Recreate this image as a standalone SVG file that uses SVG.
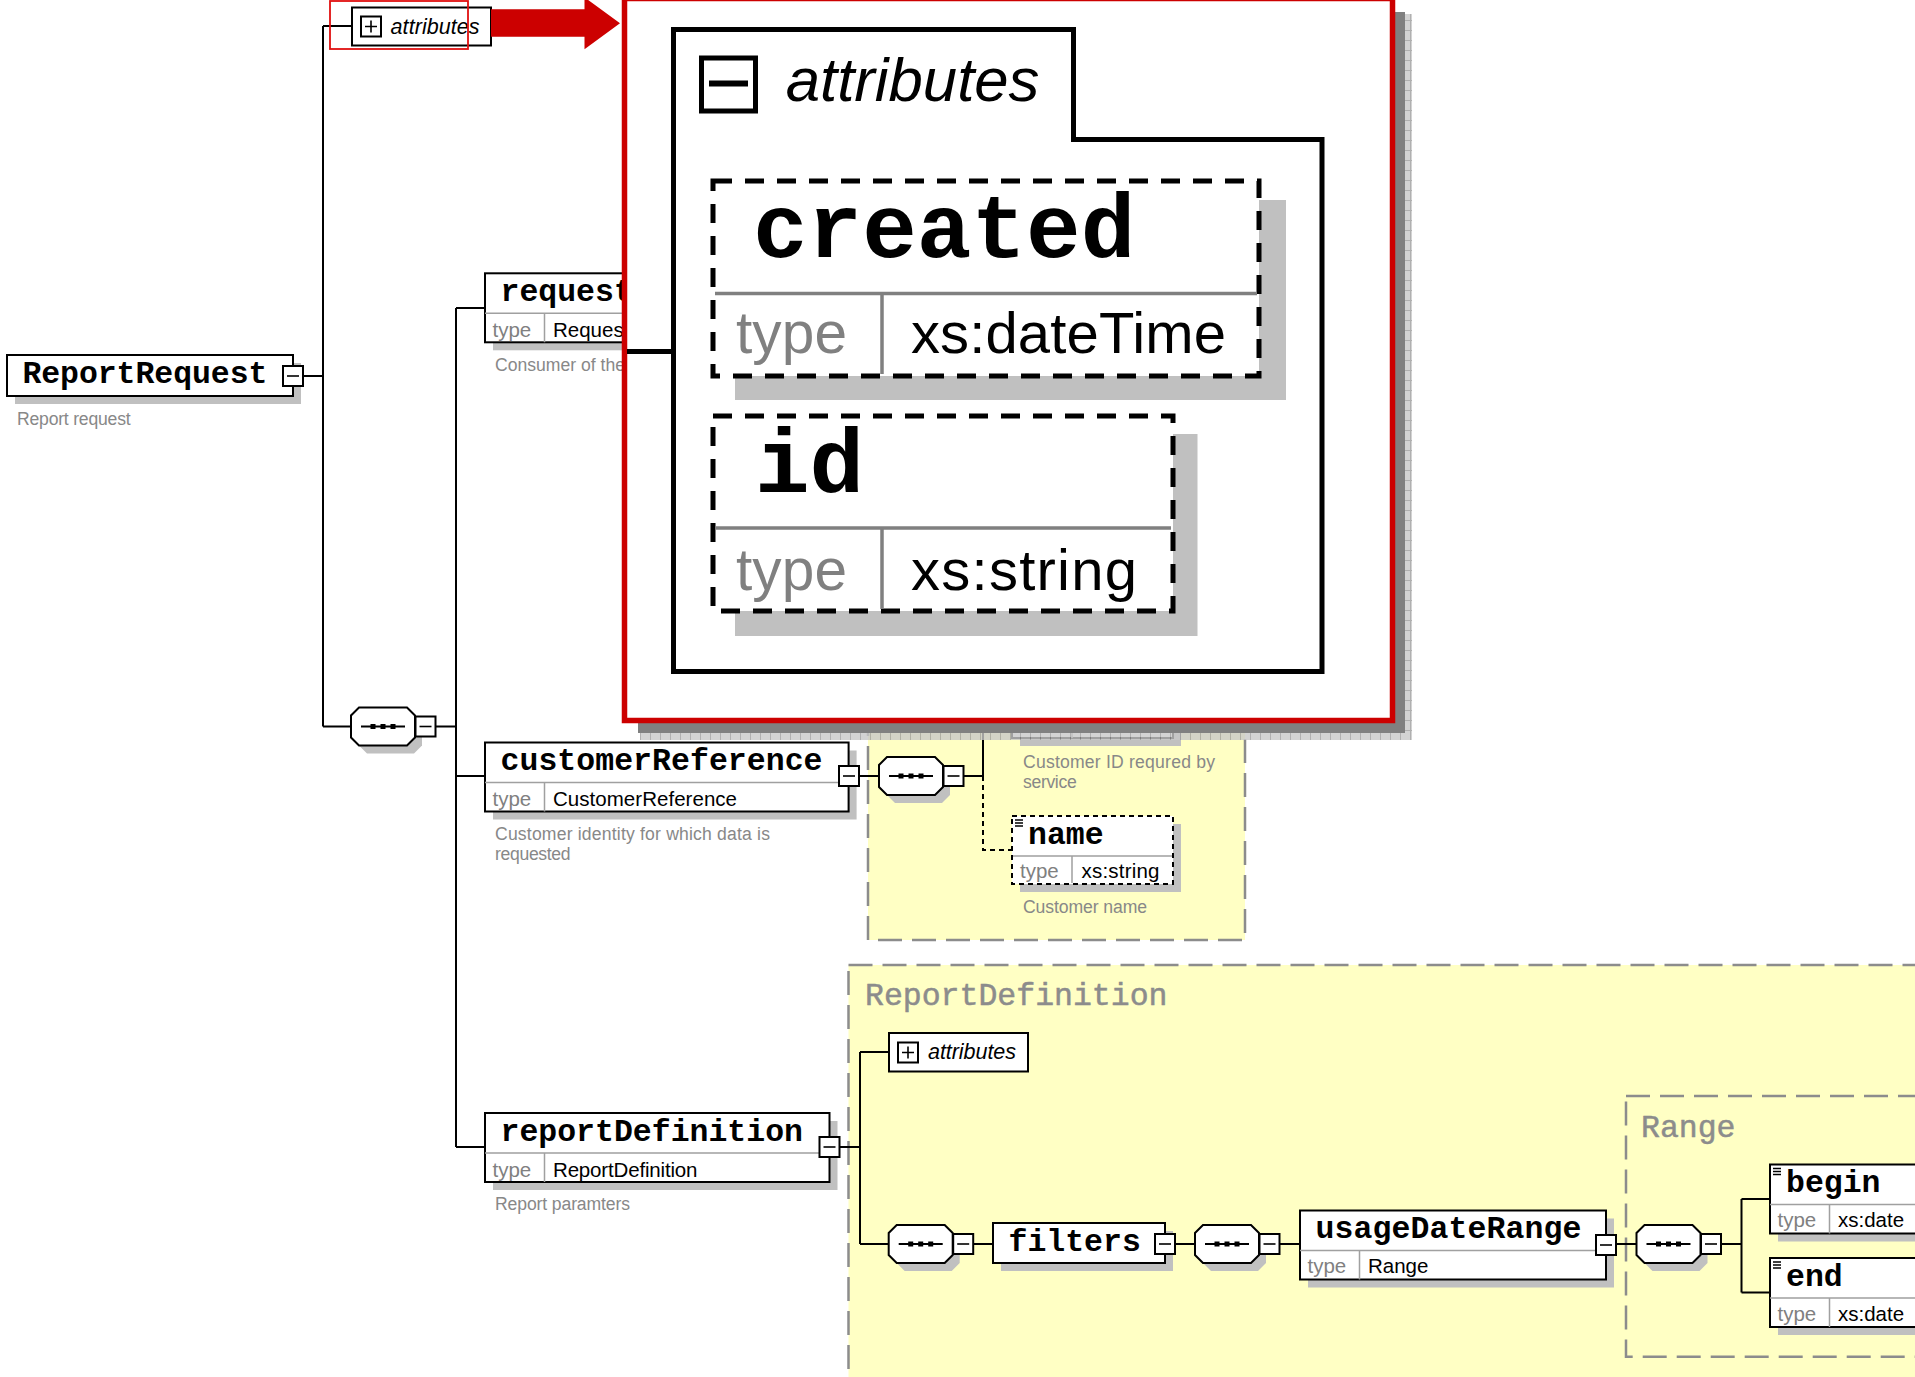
<svg xmlns="http://www.w3.org/2000/svg" xmlns:xlink="http://www.w3.org/1999/xlink" width="1915" height="1377" viewBox="0 0 1915 1377">
<style>
.box{fill:#fff;stroke:#000;stroke-width:2}
.dbox{fill:#fff;stroke:#000;stroke-width:2;stroke-dasharray:5 4}
.shd{fill:#c0c0c0}
.sep{stroke:#a0a0a0;stroke-width:1.5;fill:none}
.ttl{font-family:"Liberation Mono","Courier New",monospace;font-weight:bold;font-size:31.5px;fill:#000}
.typ{font-family:"Liberation Sans",Arial,sans-serif;font-size:20.5px;fill:#808080}
.val{font-family:"Liberation Sans",Arial,sans-serif;font-size:20.5px;fill:#000}
.dsc{font-family:"Liberation Sans",Arial,sans-serif;font-size:17.6px;fill:#888}
.att{font-family:"Liberation Sans",Arial,sans-serif;font-style:italic;font-size:21.5px;fill:#000}
.con{stroke:#000;stroke-width:2;fill:none}
.dcon{stroke:#000;stroke-width:2;fill:none;stroke-dasharray:5 4}
.yel{fill:#ffffc4;stroke:#8c8c8c;stroke-width:2.5;stroke-dasharray:24 10}
.lbl{font-family:"Liberation Mono","Courier New",monospace;font-size:31.5px;fill:#8c8c8c;stroke:#8c8c8c;stroke-width:0.5}
.ico{stroke:#000;stroke-width:1.3}
</style>
<defs>
<g id="minus"><rect x="0" y="0" width="20" height="20" fill="#fff" stroke="#000" stroke-width="2"/><path d="M4,10H16" stroke="#000" stroke-width="1.6"/></g>
<g id="plus"><rect x="0" y="0" width="20" height="20" fill="#fff" stroke="#000" stroke-width="2"/><path d="M4,10H16M10,4V16" stroke="#000" stroke-width="1.6"/></g>
<g id="seq">
<path d="M16,8H63L71,16V38L63,46H16L8,38V16Z" fill="#c0c0c0"/>
<path d="M8,0H56L64,8V30L56,38H8L0,30V8Z" fill="#fff" stroke="#000" stroke-width="2"/>
<path d="M10,19H54" stroke="#000" stroke-width="2"/>
<rect x="19.5" y="16.5" width="5" height="5"/><rect x="29.5" y="16.5" width="5" height="5"/><rect x="39.5" y="16.5" width="5" height="5"/>
<use xlink:href="#minus" x="64.5" y="9"/>
</g>
<path id="eq" d="M3,4H11M3,7H11M3,10H11"/>
<pattern id="hatch" width="10" height="10" patternUnits="userSpaceOnUse"><rect width="10" height="10" fill="#c8c8c8"/><path d="M0,0.5H10M0.5,0V10" stroke="#9c9c9c" stroke-width="1"/></pattern>
</defs>
<rect width="1915" height="1377" fill="#fff"/>

<g id="complex-types">
<rect class="yel" x="868" y="640" width="377" height="300"/>
<rect class="yel" x="848.5" y="965" width="1200" height="600"/>
<text class="lbl" x="865" y="1005">ReportDefinition</text>
<rect class="yel" x="1626" y="1096" width="400" height="260.7"/>
<text class="lbl" x="1641" y="1137">Range</text>
</g>

<g id="connectors">
<path class="con" d="M302,376H323M323,26V726.5M323,26H352M323,726.5H351M435.5,726.5H456M456,308V1147M456,308H485M456,776H485M456,1147H485"/>
<path class="con" d="M859,776H879M963.5,776H983M983,690V776"/>
<path class="dcon" d="M983,776V850H1012"/>
<path class="con" d="M839.5,1147H860M860,1052V1244M860,1052H889M860,1244H889M973,1244H993M1175,1244H1195M1279.5,1244H1300M1616,1244H1636.5M1721,1244H1741.5M1741.5,1199V1292.5M1741.5,1199H1770M1741.5,1292.5H1770"/>
</g>

<g id="node-ReportRequest">
<rect class="shd" x="15" y="363" width="286" height="41"/>
<rect class="box" x="7" y="355" width="286" height="41"/>
<text class="ttl" x="22.4" y="383.3" textLength="245">ReportRequest</text>
<use xlink:href="#minus" x="283" y="366"/>
<text class="dsc" x="17" y="425" textLength="113.6">Report request</text>
</g>

<g id="node-attributes">
<rect class="box" x="352" y="7.5" width="139" height="38"/>
<use xlink:href="#plus" x="361" y="16.5"/>
<text class="att" x="390.6" y="33.5" textLength="89">attributes</text>
</g>

<g id="node-sequence1"><use xlink:href="#seq" x="351" y="707.5"/></g>

<g id="node-request">
<rect class="shd" x="493" y="281.3" width="400" height="69"/>
<rect class="box" x="485" y="273.3" width="400" height="69"/>
<path class="sep" d="M485,313.3H885M544.5,313.3V342.3"/>
<text class="ttl" x="500.5" y="300.8">request</text>
<text class="typ" x="492.5" y="336.5">type</text>
<text class="val" x="553" y="336.5">Request</text>
<text class="dsc" x="495" y="371">Consumer of the</text>
</g>

<g id="node-customerReference">
<rect class="shd" x="493" y="750.5" width="363.6" height="69"/>
<rect class="box" x="485" y="742.5" width="363.6" height="69"/>
<path class="sep" d="M485,782.5H848.6M544.5,782.5V811.5"/>
<text class="ttl" x="500.5" y="770" textLength="322">customerReference</text>
<text class="typ" x="492.5" y="805.5">type</text>
<text class="val" x="553" y="805.5" textLength="184">CustomerReference</text>
<use xlink:href="#minus" x="839" y="766"/>
<text class="dsc" x="495" y="840" textLength="275">Customer identity for which data is</text>
<text class="dsc" x="495" y="860" textLength="75.6">requested</text>
</g>

<g id="node-sequence2"><use xlink:href="#seq" x="879" y="757"/></g>

<g id="node-customerID">
<rect class="shd" x="1020" y="678" width="161" height="68"/>
<rect class="box" x="1012" y="670" width="161" height="68"/>
<path class="sep" d="M1072,710V738"/>
<text class="dsc" x="1023" y="768" textLength="192">Customer ID requred by</text>
<text class="dsc" x="1023" y="788" textLength="53.7">service</text>
</g>

<g id="node-name">
<rect class="shd" x="1020" y="824" width="161" height="68"/>
<rect class="dbox" x="1012" y="816" width="161" height="68"/>
<path class="sep" d="M1013,856H1172M1072,856V883"/>
<use xlink:href="#eq" class="ico" x="1012" y="816"/>
<text class="ttl" x="1028" y="843.5">name</text>
<text class="typ" x="1020" y="878">type</text>
<text class="val" x="1081.5" y="878" textLength="78">xs:string</text>
<text class="dsc" x="1023" y="913" textLength="124">Customer name</text>
</g>

<g id="node-reportDefinition">
<rect class="shd" x="493" y="1121" width="344.5" height="69"/>
<rect class="box" x="485" y="1113" width="344.5" height="69"/>
<path class="sep" d="M485,1153H829.5M544.5,1153V1182"/>
<text class="ttl" x="500.5" y="1140.5">reportDefinition</text>
<text class="typ" x="492.5" y="1176.5">type</text>
<text class="val" x="553" y="1176.5" textLength="144.5">ReportDefinition</text>
<use xlink:href="#minus" x="819.5" y="1137"/>
<text class="dsc" x="495" y="1210" textLength="135">Report paramters</text>
</g>

<g id="node-attributes2">
<rect class="box" x="889" y="1033" width="139" height="38.5"/>
<use xlink:href="#plus" x="898" y="1042.5"/>
<text class="att" x="928" y="1058.5" textLength="88">attributes</text>
</g>

<g id="node-sequence3"><use xlink:href="#seq" x="888.7" y="1225"/></g>

<g id="node-filters">
<rect class="shd" x="1001" y="1231" width="172" height="40"/>
<rect class="box" x="993" y="1223" width="172" height="40"/>
<text class="ttl" x="1008.5" y="1251">filters</text>
<use xlink:href="#minus" x="1155" y="1234"/>
</g>

<g id="node-sequence4"><use xlink:href="#seq" x="1195" y="1225"/></g>

<g id="node-usageDateRange">
<rect class="shd" x="1308" y="1218.5" width="306" height="69"/>
<rect class="box" x="1300" y="1210.5" width="306" height="69"/>
<path class="sep" d="M1300,1250.5H1606M1359.5,1250.5V1279.5"/>
<text class="ttl" x="1315.5" y="1238" textLength="266">usageDateRange</text>
<text class="typ" x="1307.5" y="1273">type</text>
<text class="val" x="1368" y="1273">Range</text>
<use xlink:href="#minus" x="1596" y="1235"/>
</g>

<g id="node-sequence5"><use xlink:href="#seq" x="1636.5" y="1225"/></g>

<g id="node-begin">
<rect class="shd" x="1778" y="1172.5" width="200" height="69"/>
<rect class="box" x="1770" y="1164.5" width="200" height="69"/>
<path class="sep" d="M1770,1204.5H1970M1829.5,1204.5V1233.5"/>
<use xlink:href="#eq" class="ico" x="1770" y="1164.5"/>
<text class="ttl" x="1786" y="1192">begin</text>
<text class="typ" x="1777.5" y="1227">type</text>
<text class="val" x="1838" y="1227">xs:date</text>
</g>

<g id="node-end">
<rect class="shd" x="1778" y="1266" width="200" height="69"/>
<rect class="box" x="1770" y="1258" width="200" height="69"/>
<path class="sep" d="M1770,1298H1970M1829.5,1298V1327"/>
<use xlink:href="#eq" class="ico" x="1770" y="1258"/>
<text class="ttl" x="1786" y="1285.5">end</text>
<text class="typ" x="1777.5" y="1320.5">type</text>
<text class="val" x="1838" y="1320.5">xs:date</text>
</g>

<g id="callout">
<path d="M1395,12H1405V733H638V723H1395Z" fill="#808080"/>
<path d="M1405,14H1412V740H640V733H1405Z" fill="url(#hatch)" opacity="0.8"/>
<rect x="624.5" y="-1.5" width="768" height="722" fill="#fff" stroke="#cc0000" stroke-width="5.5"/>
<path d="M627,351.5H674" stroke="#000" stroke-width="5"/>
<path d="M673.5,29.5H1073.5V139.5H1322V671.5H673.5Z" fill="#fff" stroke="#000" stroke-width="5"/>
<rect x="701.5" y="58" width="54" height="53" fill="#fff" stroke="#000" stroke-width="5"/>
<path d="M709,83.5H748" stroke="#000" stroke-width="6"/>
<text x="785.8" y="101.4" font-family="'Liberation Sans',Arial,sans-serif" font-style="italic" font-size="61.7" textLength="253.6">attributes</text>
<g id="node-created">
<rect x="735" y="200" width="551" height="200" fill="#c0c0c0"/>
<rect x="713" y="181" width="546" height="195" fill="#fff" stroke="#000" stroke-width="5" stroke-dasharray="19 13"/>
<path d="M715,293.5H1257M882,293.5V374" stroke="#808080" stroke-width="3.5"/>
<text x="753" y="257" font-family="'Liberation Mono','Courier New',monospace" font-weight="bold" font-size="91">created</text>
<text x="736" y="352.8" font-family="'Liberation Sans',Arial,sans-serif" font-size="58.6" fill="#808080" textLength="111">type</text>
<text x="911" y="352.8" font-family="'Liberation Sans',Arial,sans-serif" font-size="58" textLength="315">xs:dateTime</text>
</g>
<g id="node-id">
<rect x="735" y="434" width="462.5" height="202" fill="#c0c0c0"/>
<rect x="713" y="416" width="460" height="195" fill="#fff" stroke="#000" stroke-width="5" stroke-dasharray="19 13"/>
<path d="M715,528H1171M882,528V609" stroke="#808080" stroke-width="3.5"/>
<text x="755" y="492" font-family="'Liberation Mono','Courier New',monospace" font-weight="bold" font-size="91">id</text>
<text x="736" y="589.6" font-family="'Liberation Sans',Arial,sans-serif" font-size="58.6" fill="#808080" textLength="111">type</text>
<text x="911" y="589.6" font-family="'Liberation Sans',Arial,sans-serif" font-size="58" textLength="226">xs:string</text>
</g>
</g>

<g id="highlight">
<rect x="330" y="1" width="138" height="48" fill="none" stroke="#e01010" stroke-width="1.8"/>
<path d="M491,9.3H584.5V-2.7L620,23.3L584.5,49.3V36.7H491Z" fill="#cc0000"/>
</g>
</svg>
